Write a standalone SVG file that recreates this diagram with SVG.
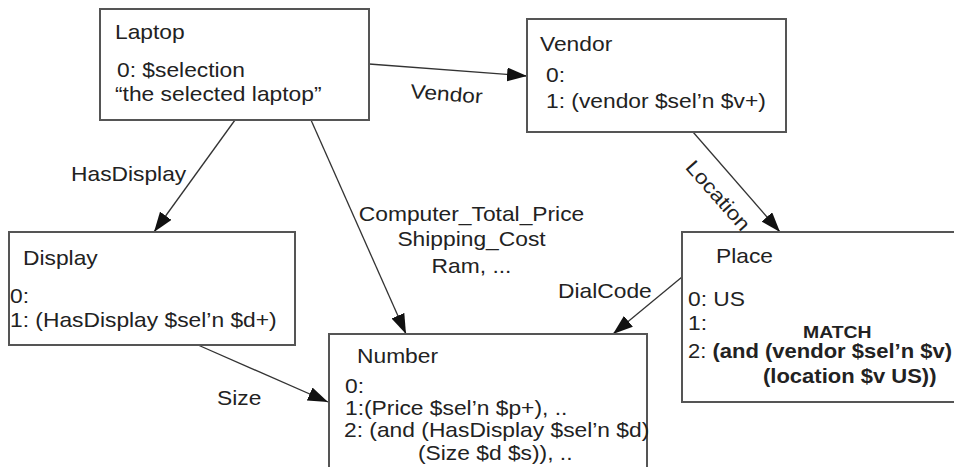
<svg xmlns="http://www.w3.org/2000/svg" width="954" height="467" viewBox="0 0 954 467">
<style>
.box{fill:#fff;stroke:#555;stroke-width:2}
.t{font-family:"Liberation Sans",Arial,sans-serif;font-size:20px;fill:#222}
.b{font-weight:bold}
.m{text-anchor:middle}
.edge{fill:none;stroke:#333;stroke-width:1.3;marker-end:url(#ah)}
</style>
<defs>
<marker id="ah" markerUnits="userSpaceOnUse" markerWidth="20" markerHeight="14" refX="20" refY="7" orient="auto">
<path d="M0,0 L20,7 L0,14 z" fill="#111"/>
</marker>
</defs>
<rect width="954" height="467" fill="#fff"/>
<g id="connectors">
<line class="edge" x1="369" y1="64" x2="527" y2="76"/>
<line class="edge" x1="235" y1="120" x2="154" y2="232"/>
<line class="edge" x1="311" y1="120" x2="406" y2="334"/>
<line class="edge" x1="693" y1="132" x2="780" y2="232"/>
<line class="edge" x1="682" y1="277" x2="613" y2="334"/>
<line class="edge" x1="198" y1="345" x2="328" y2="402"/>
<text class="t" transform="translate(410,98) rotate(4.3) scale(1.14,1)">Vendor</text>
<text class="t" transform="matrix(1.14 0 0 1 71 181)">HasDisplay</text>
<text class="t m" transform="matrix(1.14 0 0 1 471.5 221)">Computer_Total_Price</text>
<text class="t m" transform="matrix(1.14 0 0 1 471.5 246)">Shipping_Cost</text>
<text class="t m" transform="matrix(1.14 0 0 1 471.5 273)">Ram, ...</text>
<text class="t" transform="matrix(1.14 0 0 1 558 298)">DialCode</text>
<text class="t" transform="matrix(1.14 0 0 1 217 405)">Size</text>
<text class="t m" transform="translate(713,200) rotate(48.6) scale(1.14,1)">Location</text>
</g>
<g id="laptop">
<rect class="box" x="100" y="9" width="269" height="111"/>
<text class="t" transform="matrix(1.14 0 0 1 115 39)">Laptop</text>
<text class="t" transform="matrix(1.14 0 0 1 117 77)">0: $selection</text>
<text class="t" transform="matrix(1.14 0 0 1 115 101)">“the selected laptop”</text>
</g>
<g id="vendor">
<rect class="box" x="527" y="19" width="259" height="113"/>
<text class="t" transform="matrix(1.14 0 0 1 540 51)">Vendor</text>
<text class="t" transform="matrix(1.14 0 0 1 546 82)">0:</text>
<text class="t" transform="matrix(1.14 0 0 1 546 108)">1: (vendor $sel’n $v+)</text>
</g>
<g id="display">
<rect class="box" x="9" y="232" width="286" height="113"/>
<text class="t" transform="matrix(1.14 0 0 1 23 265)">Display</text>
<text class="t" transform="matrix(1.14 0 0 1 10 303)">0:</text>
<text class="t" transform="matrix(1.14 0 0 1 10 327)">1: (HasDisplay $sel’n $d+)</text>
</g>
<g id="number">
<rect class="box" x="329" y="334" width="318" height="145"/>
<text class="t" transform="matrix(1.14 0 0 1 357 363)">Number</text>
<text class="t" transform="matrix(1.14 0 0 1 345 393)">0:</text>
<text class="t" transform="matrix(1.14 0 0 1 345 415)">1:(Price $sel’n $p+), ..</text>
<text class="t" transform="matrix(1.14 0 0 1 344 437)">2: (and (HasDisplay $sel’n $d)</text>
<text class="t" transform="matrix(1.14 0 0 1 418 460)">(Size $d $s)), ..</text>
</g>
<g id="place">
<rect class="box" x="682" y="232" width="280" height="170"/>
<text class="t" transform="matrix(1.14 0 0 1 716 263)">Place</text>
<text class="t" transform="matrix(1.14 0 0 1 688 306)">0: US</text>
<text class="t" transform="matrix(1.14 0 0 1 688 330)">1:</text>
<text class="t b" style="font-size:17px" transform="matrix(1.14 0 0 1 803 338)">MATCH</text>
<text class="t" transform="matrix(1.1 0 0 1 688 358)">2: <tspan class="b">(and (vendor $sel’n $v)</tspan></text>
<text class="t b" transform="matrix(1.1 0 0 1 763 383)">(location $v US))</text>
</g>
</svg>
